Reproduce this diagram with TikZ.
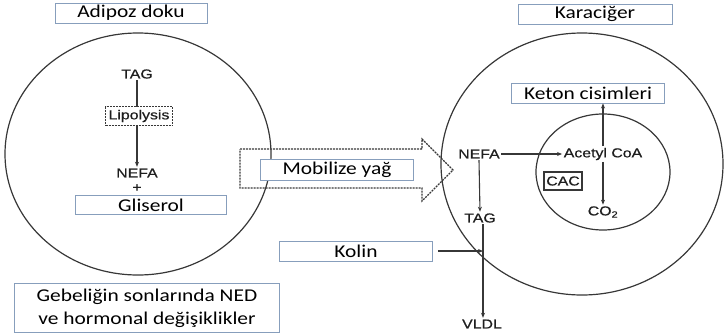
\documentclass[tikz,border=0pt]{standalone}
\usepackage{fontspec}
\setmainfont[FakeStretch=1.19]{Carlito}
\newfontfamily\arialf[FakeStretch=1.22,FakeBold=0.6]{Liberation Sans}
\usetikzlibrary{shapes.geometric,arrows.meta,calc}
\definecolor{boxblue}{RGB}{135,158,188}
\definecolor{ink}{RGB}{55,55,55}
\definecolor{txt}{RGB}{30,30,30}
\tikzset{
  cellshape/.style={draw=ink, line width=1.2pt, ellipse, inner sep=0pt},
  tag/.style={draw=boxblue, line width=0.9pt, fill=white, inner sep=0pt,
    font=\fontsize{18}{22}\selectfont, text=black},
  bio/.style={font=\arialf\fontsize{13}{15}\selectfont, text=txt, inner sep=1.5pt},
  flow/.style={draw=ink, line width=1.1pt, -{Stealth[length=5pt,width=4pt]}},
  dashbox/.style={draw=ink, line width=1.1pt, dash pattern=on 2pt off 1pt, fill=white, inner sep=0pt}
}
\begin{document}
\begin{tikzpicture}[x=1pt,y=-1pt]
\useasboundingbox (0,0) rectangle (724,335);

% the two cells
\node[cellshape, minimum width=266pt, minimum height=242pt] (adipo) at (138,154) {};
\node[cellshape, minimum width=282pt, minimum height=262pt] (liver) at (582,164) {};
\node[cellshape, minimum width=134pt, minimum height=116pt] (mito) at (603,172) {};

% titles
\node[tag, minimum width=152pt, minimum height=20pt] (t1) at (131,13) {Adipoz doku};
\node[tag, minimum width=154pt, minimum height=20pt] (t2) at (595,14) {Karaciğer};

% adipose tissue
\node[bio] (tagL) at (137,74) {TAG};
\node[bio] (nefaL) at (137,173) {NEFA};
\node[bio] (plus) at (137,188) {+};
\draw[flow] (tagL.south) -- (nefaL.north);
\node[dashbox, bio, minimum width=67pt, minimum height=19pt] (lip) at (139,116) {Lipolysis};
\node[tag, minimum width=151pt, minimum height=19pt] (glis) at (151,205) {Gliserol};

% transfer arrow
\draw[ink, line width=1.2pt, dash pattern=on 2pt off 1pt]
  (240,149) -- (422,149) -- (422,139) -- (453,170) -- (422,201) -- (422,188)
  -- (240,188) -- cycle;
\node[tag, minimum width=153pt, minimum height=21pt] (mob) at (337,170) {Mobilize yağ};

% liver
\node[bio] (nefaR) at (479,154) {NEFA};
\node[bio] (acoa) at (603,154) {Acetyl CoA};
\node[bio] (co2) at (603,212) {CO\textsubscript{2}};
\node[bio, draw=ink, line width=1.1pt, inner sep=0pt, minimum width=38pt, minimum height=18pt] (cac) at (563,181) {CAC};
\node[tag, minimum width=153pt, minimum height=20pt] (keton) at (588,93) {Keton cisimleri};
\node[bio] (tagR) at (480,218) {TAG};
\node[bio] (vldl) at (482,324) {VLDL};
\node[tag, minimum width=153pt, minimum height=20pt] (kolin) at (356,251) {Kolin};

\draw[flow] (nefaR.east) -- (acoa.west);
\draw[flow] (acoa.north) -- (acoa.north |- keton.south);
\draw[flow] (acoa.south) -- (co2.north);
\draw[flow] (nefaR.south) -- (tagR.north);
\draw[flow] ([xshift=3pt]tagR.south) -- ([xshift=1pt]vldl.north);
\coordinate (join) at ([xshift=3pt]tagR.south |- kolin.east);
\draw[flow, shorten <=5pt] (kolin.east) -- (join);

% note
\node[tag, minimum width=265pt, minimum height=49pt, align=center,
      font=\fontsize{18}{23}\selectfont] (note) at (147,308)
  {Gebeliğin sonlarında NED\\ve hormonal değişiklikler};
\end{tikzpicture}
\end{document}
